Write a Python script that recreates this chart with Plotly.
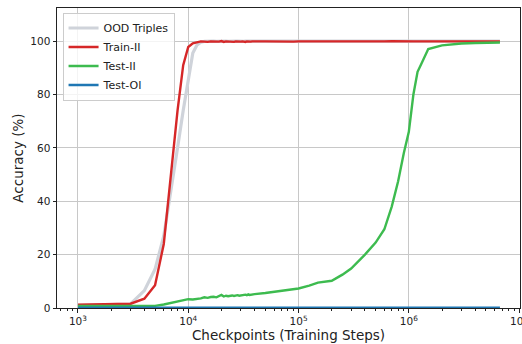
import plotly.graph_objects as go

# Checkpoints: dense every 1k steps up to 40k, sparser afterwards
steps = [
    1000, 2000, 3000, 4000, 5000, 6000, 7000, 8000, 9000, 10000,
    11000, 12000, 13000, 14000, 15000, 16000, 17000, 18000, 19000, 20000,
    21000, 22000, 23000, 24000, 25000, 26000, 27000, 28000, 29000, 30000,
    31000, 32000, 33000, 34000, 35000, 36000, 37000, 38000, 39000, 40000,
    50000, 60000, 70000, 80000, 90000, 100000, 125000, 150000, 200000, 250000,
    300000, 400000, 500000, 600000, 700000, 800000, 900000, 1000000, 1100000, 1200000,
    1300000, 1500000, 2000000, 3000000, 4000000, 5000000, 6000000, 6700000,
]

ood_triples = [
    1.0, 1.2, 1.5, 6.5, 14.5, 27.0, 44.0, 60.0, 74.0, 86.0,
    95.5, 98.5, 99.6, 99.9, 100.0, 99.9, 100.0, 99.9, 100.0, 100.0,
    99.9, 100.0, 99.9, 100.0, 100.0, 99.9, 100.0, 100.0, 99.9, 100.0,
    100.0, 99.9, 100.0, 100.0, 99.9, 100.0, 100.0, 100.0, 99.9, 100.0,
    100.0, 100.0, 100.0, 100.0, 100.0, 100.0, 100.0, 100.0, 100.0, 100.0,
    100.0, 100.0, 100.0, 100.0, 100.0, 100.0, 100.0, 100.0, 100.0, 100.0,
    100.0, 100.0, 100.0, 100.0, 100.0, 100.0, 100.0, 100.0,
]

train_ii = [
    1.2, 1.3, 1.6, 3.5, 8.5, 24.0, 52.0, 74.0, 91.0, 97.8,
    99.2, 99.7, 99.9, 99.8, 99.7, 99.9, 99.8, 99.9, 99.8, 100.0,
    99.7, 99.9, 99.8, 99.9, 99.8, 99.7, 99.9, 99.8, 99.9, 99.8,
    99.9, 99.8, 99.7, 99.9, 99.8, 99.9, 99.8, 99.9, 99.8, 99.9,
    99.9, 99.8, 99.9, 99.9, 99.8, 99.9, 99.9, 99.8, 99.7, 99.8,
    99.9, 99.9, 99.9, 99.9, 100.0, 99.9, 100.0, 99.9, 99.9, 99.9,
    99.9, 99.9, 100.0, 100.0, 99.9, 100.0, 100.0, 99.9,
]

test_ii = [
    0.8, 0.8, 0.8, 0.8, 0.8, 1.3, 1.9, 2.5, 3.0, 3.3,
    3.2, 3.3, 3.6, 4.0, 3.8, 4.1, 4.2, 4.0, 4.6, 4.9,
    4.3, 4.6, 4.4, 4.5, 4.7, 4.5, 4.6, 4.8, 4.6, 4.7,
    4.8, 4.7, 5.0, 4.8, 5.1, 4.9, 5.0, 5.1, 5.0, 5.2,
    5.6, 6.0, 6.4, 6.7, 7.0, 7.3, 8.4, 9.5, 10.2, 12.5,
    14.8, 20.0, 24.5, 29.5, 38.0, 47.5, 58.0, 66.0, 80.0, 88.5,
    91.5, 97.0, 98.4, 99.1, 99.3, 99.4, 99.4, 99.5,
]

test_oi = [
    0.1, 0.1, 0.1, 0.1, 0.1, 0.1, 0.1, 0.1, 0.1, 0.1,
    0.1, 0.1, 0.1, 0.1, 0.1, 0.1, 0.1, 0.1, 0.1, 0.2,
    0.1, 0.1, 0.1, 0.1, 0.1, 0.1, 0.1, 0.1, 0.1, 0.2,
    0.1, 0.1, 0.1, 0.1, 0.1, 0.1, 0.1, 0.1, 0.1, 0.1,
    0.1, 0.1, 0.1, 0.1, 0.1, 0.1, 0.1, 0.1, 0.1, 0.1,
    0.2, 0.3, 0.2, 0.1, 0.1, 0.1, 0.1, 0.1, 0.1, 0.1,
    0.1, 0.1, 0.1, 0.1, 0.1, 0.2, 0.2, 0.1,
]

x_tickvals = [1e3, 1e4, 1e5, 1e6, 1e7]
x_ticktext = ["10<sup>3</sup>", "10<sup>4</sup>", "10<sup>5</sup>", "10<sup>6</sup>", "10<sup>7</sup>"]
y_tickvals = [0, 20, 40, 60, 80, 100]

series = [
    ("OOD Triples", ood_triples, "#cfd3da", 3.2),
    ("Train-II", train_ii, "#d62728", 2.4),
    ("Test-II", test_ii, "#3dbb4f", 2.4),
    ("Test-OI", test_oi, "#1f77b4", 2.4),
]

font = "DejaVu Sans, Liberation Sans, sans-serif"

fig = go.Figure()
for name, vals, color, width in series:
    fig.add_trace(go.Scatter(
        x=steps, y=vals, name=name, mode="lines",
        line=dict(color=color, width=width),
    ))

axis_common = dict(
    showline=True, linecolor="#222", linewidth=1, mirror=True,
    ticks="outside", ticklen=3.5, tickcolor="#222", tickwidth=1,
    showgrid=True, gridcolor="#c8c8c8", gridwidth=1,
    zeroline=False, tickfont=dict(family=font, size=10.5, color="#222"),
    ticklabeloverflow="allow", automargin=False,
)

fig.update_layout(
    width=522, height=344,
    margin=dict(l=57, r=2, t=8, b=36),
    paper_bgcolor="white", plot_bgcolor="white",
    font=dict(family=font, size=10.5, color="#222"),
    xaxis=dict(
        type="log", range=[2.810, 7.008],
        tickvals=x_tickvals, ticktext=x_ticktext,
        minor=dict(ticks="outside", ticklen=2, tickcolor="#222", dtick="D1", showgrid=False),
        title=dict(text="Checkpoints (Training Steps)", font=dict(family=font, size=13.5), standoff=0),
        **axis_common,
    ),
    yaxis=dict(
        range=[0, 112.4],
        tickvals=y_tickvals,
        title=dict(text="Accuracy (%)", font=dict(family=font, size=13.5), standoff=3),
        **axis_common,
    ),
    legend=dict(
        x=0.012, y=0.985, xanchor="left", yanchor="top",
        bgcolor="rgba(255,255,255,0.8)", bordercolor="#cccccc", borderwidth=1,
        font=dict(family=font, size=11, color="#222"),
        itemwidth=30, tracegroupgap=0,
    ),
    showlegend=True,
)

fig.write_html("out.html")
